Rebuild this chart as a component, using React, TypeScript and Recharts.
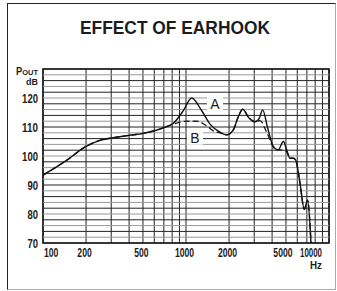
import React from "react";
import {
  LineChart,
  Line,
  XAxis,
  YAxis,
  CartesianGrid,
  ReferenceLine,
  ReferenceArea,
  ReferenceDot,
} from "recharts";

// curve A: with earhook (solid)
const freqA = [100, 147, 200, 250, 300, 400, 500, 600, 700, 813, 957, 1096, 1288, 1472, 1730, 1926, 2142, 2300, 2492, 2750, 3039, 3250, 3437, 3705, 4060, 4410, 4800, 5060, 5335, 5630, 5850, 6270, 6720, 7090, 7480];
const levelA = [93.4, 98.6, 103.3, 105.4, 106.2, 107.1, 107.8, 108.7, 109.8, 111.2, 115.6, 120.0, 115.6, 111.0, 108.2, 107.3, 109.0, 113.0, 116.1, 113.2, 111.8, 113.0, 115.9, 110.1, 103.5, 102.1, 105.0, 102.1, 99.2, 99.2, 98.6, 90.6, 81.6, 84.8, 70.0];

// curve B: without earhook (dashed)
const freqB = [100, 147, 200, 250, 300, 400, 500, 600, 700, 813, 1010, 1188, 1396, 1552, 1730, 1926, 2142, 2300, 2492, 2750, 3039, 3290, 3667, 4190, 4410, 4800, 5060, 5335, 5630, 5850, 6270, 6720, 7090, 7480];
const levelB = [93.4, 98.6, 103.3, 105.4, 106.2, 107.1, 107.8, 108.7, 109.8, 111.0, 112.0, 112.0, 110.4, 108.7, 108.0, 107.3, 109.0, 113.0, 116.1, 113.2, 111.8, 112.2, 108.2, 102.4, 102.1, 102.0, 101.5, 99.2, 99.2, 98.6, 90.6, 81.6, 84.8, 70.0];

const gridFreqs = [100, 200, 300, 400, 500, 600, 700, 800, 900, 1000, 2000, 3000, 4000, 5000, 6000, 7000, 8000, 9000, 10000];
const freqLabels = [100, 200, 500, 1000, 2000, 5000, 10000];
const dbLines = [70, 72, 74, 76, 78, 80, 82, 84, 86, 88, 90, 92, 94, 96, 98, 100, 102, 104, 106, 108, 110, 112, 114, 116, 118, 120, 122, 124, 126, 128, 130];
const dbLabels = [70, 80, 90, 100, 110, 120];

const dataA = freqA.map((f, i) => ({ f, v: levelA[i] }));
const dataB = freqB.map((f, i) => ({ f, v: levelB[i] }));

const numFont = "'Liberation Sans', Arial, sans-serif";
const ink = "#1c1c1c";

const FreqTick = (props: any) => {
  const { x, y, payload } = props;
  const v = payload.value;
  if (!freqLabels.includes(v)) return null;
  const s = String(v);
  let anchor = "middle";
  let dx = -1.5;
  let w = 4.8;
  if (v === 100) { anchor = "start"; dx = 1; }
  if (v === 5000) dx = -3;
  if (v === 10000) { anchor = "end"; dx = -7; w = 4.4; }
  return (
    <g>
      <text x={x + dx} y={y + 14} textAnchor={anchor} fontFamily={numFont} fontWeight="bold" fontSize={12}
        fill={ink} textLength={s.length * w} lengthAdjust="spacingAndGlyphs">
        {s}
      </text>
      {v === 10000 && (
        <text x={x + dx} y={y + 26} textAnchor="end" fontFamily={numFont} fontWeight="bold" fontSize={11.5}
          fill={ink} textLength={12} lengthAdjust="spacingAndGlyphs">
          Hz
        </text>
      )}
    </g>
  );
};

const DbTick = (props: any) => {
  const { x, y, payload } = props;
  if (!dbLabels.includes(payload.value)) return null;
  const s = String(payload.value);
  return (
    <text x={x - 5} y={y + 4.5} textAnchor="end" fontFamily={numFont} fontWeight="bold" fontSize={12}
      fill={ink} textLength={s.length * 5.3} lengthAdjust="spacingAndGlyphs">
      {s}
    </text>
  );
};

const Tag = (text: string) => (props: any) => {
  const { cx, cy } = props;
  return (
    <g>
      <rect x={cx - 8} y={cy - 7} width={16} height={14} fill="#fff" />
      <text x={cx} y={cy + 5} textAnchor="middle" fontFamily="'Liberation Sans', Arial, sans-serif" fontSize={14} fill={ink}>
        {text}
      </text>
    </g>
  );
};

export default function App() {
  return (
    <div style={{ position: "absolute", left: 0, top: 0, width: 337, height: 291, background: "#fff" }}>
      <div
        style={{
          position: "absolute", left: 7, top: 3, width: 327, height: 285,
          borderStyle: "solid", borderWidth: 1, borderColor: "#222 #aaa #aaa #222",
        }}
      />
      <svg width={337} height={90} style={{ position: "absolute", left: 0, top: 0 }}>
        <text x={175} y={34} textAnchor="middle" fontFamily={numFont} fontWeight="bold" fontSize={18.5}
          fill={ink} textLength={190} lengthAdjust="spacingAndGlyphs">
          EFFECT OF EARHOOK
        </text>
        <text x={38} y={75} textAnchor="end" fontFamily={numFont} fontWeight="bold" fill={ink}
          textLength={22} lengthAdjust="spacingAndGlyphs">
          <tspan fontSize={10}>P</tspan>
          <tspan fontSize={8}>OUT</tspan>
        </text>
        <text x={38} y={85} textAnchor="end" fontFamily={numFont} fontWeight="bold" fontSize={9.5} fill={ink}
          textLength={12} lengthAdjust="spacingAndGlyphs">
          dB
        </text>
      </svg>
      <div style={{ position: "absolute", left: 0, top: 0 }}>
        <LineChart width={337} height={291} margin={{ top: 69, right: 8, bottom: 0, left: 0 }}>
          <CartesianGrid horizontal={false} stroke="#222" strokeWidth={1} />
          <XAxis
            dataKey="f" type="number" scale="log" domain={[100, 10000]} allowDataOverflow
            ticks={gridFreqs} interval={0} height={48} tickSize={0} tickMargin={0}
            axisLine={false} tickLine={false} tick={<FreqTick />}
          />
          <YAxis
            type="number" domain={[70, 130]} allowDataOverflow ticks={dbLines} interval={0}
            width={43} tickSize={0} tickMargin={0} axisLine={false} tickLine={false} tick={<DbTick />}
          />
          {dbLines.map((d, i) => (
            <ReferenceLine key={d} y={d} stroke={i % 2 === 0 ? "#222" : "#999"} strokeWidth={1} />
          ))}
          <ReferenceArea x1={100} x2={10000} y1={70} y2={130} fill="none" stroke="#111" strokeWidth={1.5} />
          <ReferenceDot x={1595} y={117.9} r={0} shape={Tag("A")} />
          <ReferenceDot x={1156} y={106.3} r={0} shape={Tag("B")} />
          <Line data={dataB} dataKey="v" type="monotone" stroke="#222" strokeWidth={1.4} strokeDasharray="6 3" dot={false} isAnimationActive={false} />
          <Line data={dataA} dataKey="v" type="monotone" stroke="#111" strokeWidth={1.4} dot={false} isAnimationActive={false} />
        </LineChart>
      </div>
    </div>
  );
}
